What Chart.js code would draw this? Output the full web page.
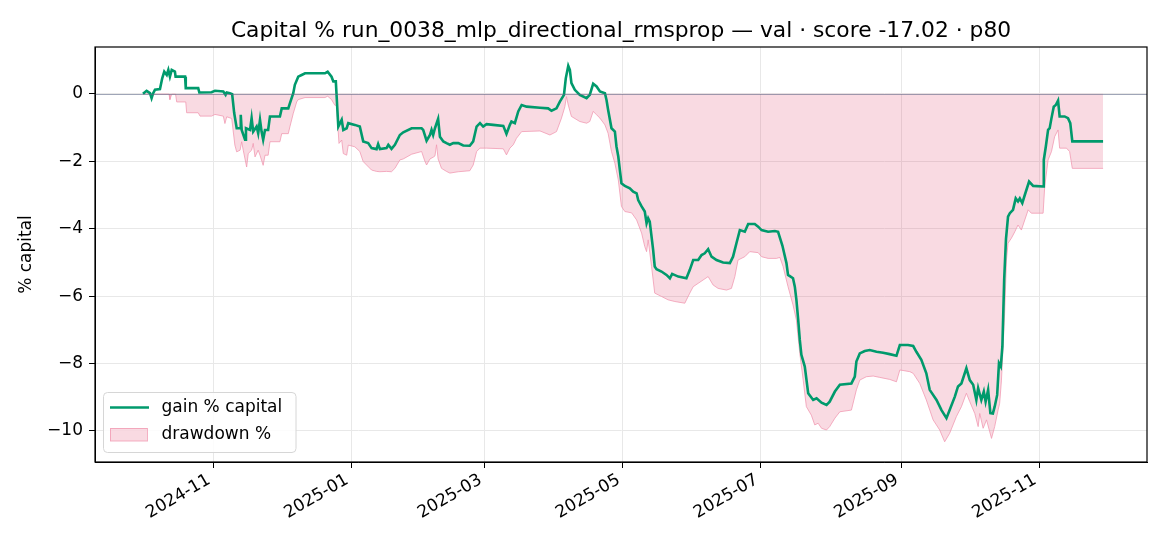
<!DOCTYPE html>
<html>
<head>
<meta charset="utf-8">
<script src="https://cdn.jsdelivr.net/npm/chart.js@4.4.1/dist/chart.umd.min.js"></script>
<style>
  html, body { margin: 0; padding: 0; background: #fff; }
  #wrap { width: 1170px; height: 546px; }
</style>
</head>
<body>
<div id="wrap"><canvas id="capitalChart" width="1170" height="546"></canvas></div>
<script>
// day 0 = first day of the validation run
var startDate = "2024-10-01";

var tickLabels = ["2024-11", "2025-01", "2025-03", "2025-05", "2025-07", "2025-09", "2025-11"];

var gainDays = [0,1.6,3.1,3.8,4.5,5.3,7.5,8.5,9.4,10.5,11.2,11.9,12.7,14.1,14.4,18.6,18.9,24.4,24.9,30.3,
	31.8,35.5,36.5,37,38.4,39.4,40.3,41.4,42.9,43.2,43.6,45.1,45.5,47.3,48,48.7,50.2,50.9,51.7,52.4,
	53.1,53.9,55.3,56.1,60.5,61.3,64.2,64.9,66.4,67.1,68.6,70.1,71.6,80.4,81.6,83.3,84.1,85.2,86.3,87.8,
	88.5,90,90.7,93.6,95.8,97.3,99.5,101,103.2,103.9,104.7,107.6,108.4,109.8,111.3,113.5,115,118.7,123.1,123.8,
	125.3,126.8,127.5,128.2,129,130.4,131.2,132.7,134.1,135.6,137.1,139.3,141.5,144.4,145.9,147.4,148.9,150.3,151.8,154.7,
	159.2,160.6,162.1,162.8,164.3,165.8,167.3,169.5,175.4,179,180.5,182.7,184.2,186,186.8,187.9,188.6,189.3,190.8,193,
	196,197.4,198.9,200.4,201.9,204.1,204.8,205.5,207,208.5,209.2,210,210.7,211.4,212.9,215.1,216.6,218.1,218.8,220.3,
	221.7,222.5,223.2,223.9,225.4,226.1,226.9,229.1,231.3,232.8,233.8,236.5,240.1,241.6,243.1,245.3,246.8,248.2,249.7,251.2,
	253.4,256.3,259.3,260.7,262.2,263.7,265.9,267.4,270.3,271.8,273.3,276.2,279.2,280.6,282.5,284.3,285,287.2,288,288.7,
	289.5,290.2,290.9,292.4,293.9,296.1,297.6,299.8,302,303.4,305.7,307.9,313,314.5,315.2,316.7,318.9,321.1,324.1,327,
	329.9,332.9,334.4,338,340.3,341.7,343.9,346.1,347.6,350.6,352.8,355,356.4,358.7,360.1,361.6,363.8,365.3,366.8,368.2,
	369,370.4,371.5,372.3,373.4,374.4,375.5,376.3,377.4,378.2,379,379.7,380.5,381.3,382.2,383,384.4,385.6,386.6,387.4,
	388.5,389.6,391.5,393.3,397.7,398,398.9,399.9,400.6,401.4,402.4,403.3,404.3,405,407.2,408.7,409.7,410.6,424.2];

var gainPct = [0,0.09,0.02,-0.13,0.02,0.12,0.14,0.46,0.66,0.56,0.71,0.51,0.71,0.66,0.51,0.51,0.17,0.17,0.04,0.05,
	0.09,0.07,-0.03,0.04,0.02,-0.01,-0.57,-1.02,-1.02,-0.62,-1.07,-1.36,-1.02,-1.07,-0.72,-1.12,-0.97,-1.17,-0.77,-1.12,
	-1.36,-1.07,-1.07,-0.67,-0.67,-0.43,-0.43,-0.28,0.02,0.27,0.51,0.56,0.61,0.61,0.66,0.51,0.37,0.37,-0.97,-0.77,
	-1.07,-1.02,-0.87,-0.92,-0.97,-1.41,-1.46,-1.61,-1.64,-1.49,-1.64,-1.61,-1.51,-1.63,-1.51,-1.22,-1.14,-1.02,-1.02,-1.07,
	-1.39,-1.22,-1.07,-1.22,-1.02,-0.74,-1.27,-1.41,-1.46,-1.51,-1.46,-1.46,-1.53,-1.54,-1.41,-0.97,-0.87,-0.97,-0.9,-0.92,
	-0.95,-1.19,-0.92,-0.82,-0.87,-0.52,-0.33,-0.38,-0.41,-0.43,-0.5,-0.43,-0.23,-0.03,0.46,0.83,0.71,0.32,0.12,-0.03,
	-0.13,-0.03,0.3,0.22,0.07,0.02,-0.18,-0.47,-1.02,-1.12,-1.56,-1.86,-2.26,-2.65,-2.73,-2.8,-2.9,-2.95,-3.15,-3.34,
	-3.49,-3.84,-3.69,-3.79,-4.63,-5.12,-5.2,-5.27,-5.37,-5.47,-5.34,-5.42,-5.47,-5.22,-4.93,-4.93,-4.78,-4.73,-4.61,-4.83,
	-4.93,-5,-5.02,-4.83,-4.43,-4.04,-4.09,-3.86,-3.86,-3.94,-4.04,-4.09,-4.07,-4.09,-4.5,-5.02,-5.37,-5.47,-5.72,-6.11,
	-6.71,-7.3,-7.74,-8.09,-8.88,-9.08,-9.03,-9.16,-9.23,-9.13,-8.83,-8.63,-8.59,-8.39,-7.94,-7.7,-7.63,-7.6,-7.65,-7.68,
	-7.72,-7.77,-7.45,-7.45,-7.48,-7.65,-7.89,-8.29,-8.78,-9.08,-9.38,-9.62,-9.38,-8.98,-8.68,-8.59,-8.14,-8.49,-8.63,-9.08,
	-8.73,-9.08,-8.83,-9.13,-8.78,-9.47,-9.48,-9.28,-8.93,-7.99,-8.09,-7.5,-5.5,-4.3,-3.64,-3.54,-3.44,-3.1,-3.19,-3.1,
	-3.24,-3,-2.6,-2.73,-2.75,-1.96,-1.56,-1.07,-1.02,-0.72,-0.38,-0.33,-0.2,-0.67,-0.67,-0.72,-0.87,-1.41,-1.41];

var ddDays = [0,3.4,3.8,4.5,11.5,11.9,12.7,14.4,14.9,18.9,19.3,24.4,25.2,30.3,31.8,35.5,36.2,37,39.2,40.6,
	41.4,42.9,43.6,44.3,45.8,46.5,48,48.7,49.5,50.9,51.7,53.1,53.9,55.3,56.1,60.5,61.3,64.2,64.9,66.4,
	67.9,68.6,71.6,80.4,81.6,83.3,84.8,85.5,86.6,87.8,88.5,90,90.7,93.6,95.8,97.3,101,103.2,104.7,107.6,
	109.8,111.3,113.5,115,118.7,123.1,124.5,125.3,126.8,128.2,129,129.7,130.4,131.9,134.1,135.6,139.3,144.4,145.9,147.4,
	148.9,151.8,159.2,160.6,162.1,163.6,165,167.3,175.4,179.8,182.7,184.9,186.4,187.1,187.9,189.3,193,196,197.4,198.9,
	200.4,201.9,204.1,205.5,207,208.5,210,211.4,212.9,215.9,218.1,220.3,221.7,222.5,223.2,224.7,226.1,229.1,232,235,
	239.4,241.6,243.1,245.3,247.5,249.7,251.9,254.1,257.8,260,261.5,262.9,265.9,268.1,271.8,273.3,276.2,279.9,281.4,282.8,
	285,287.2,288.7,290.2,291.7,293.1,295.3,296.8,298.3,299.8,302,303.4,305.7,307.9,313,315.2,316.7,319.6,322.6,325.5,
	329.9,332.9,334.4,338.8,340.3,343.2,346.1,349.1,352,354.2,356.4,359.4,361.6,363.8,365.3,367.5,369,369.7,371.2,372.7,
	374.9,376.3,377.8,378.5,379.3,380.7,381.5,382.2,383.7,385.2,386.6,388.1,389.6,391.1,392.5,397.7,398.4,399.9,401.4,402.8,
	404.3,405,408,409.4,410.6,424.2];

var ddPct = [0,0,-0.17,-0.01,-0.01,-0.17,-0.01,-0.01,-0.24,-0.24,-0.56,-0.56,-0.66,-0.66,-0.61,-0.66,-0.88,-0.68,-0.73,-1.52,
	-1.72,-1.67,-1.42,-1.67,-2.17,-1.77,-1.67,-1.47,-1.87,-1.67,-1.82,-2.12,-1.82,-1.82,-1.42,-1.42,-1.18,-1.18,-0.98,-0.58,
	-0.24,-0.17,-0.11,-0.11,-0.07,-0.17,-0.34,-0.34,-1.47,-1.37,-1.77,-1.82,-1.52,-1.57,-1.71,-2.01,-2.26,-2.3,-2.31,-2.3,
	-2.31,-2.21,-1.96,-1.93,-1.79,-1.71,-1.99,-2.11,-1.93,-1.88,-1.84,-1.51,-1.93,-2.21,-2.3,-2.35,-2.31,-2.28,-2.11,-1.71,
	-1.61,-1.61,-1.63,-1.81,-1.61,-1.51,-1.32,-1.12,-1.1,-1.22,-1.12,-0.72,-0.38,-0.08,-0.33,-0.67,-0.82,-0.87,-0.82,-0.52,
	-0.62,-0.72,-0.92,-1.17,-1.71,-2.06,-2.55,-3.34,-3.49,-3.53,-3.74,-4.13,-4.53,-4.68,-4.33,-5.12,-5.91,-6.01,-6.11,-6.16,
	-6.21,-5.91,-5.72,-5.62,-5.52,-5.42,-5.67,-5.77,-5.82,-5.77,-5.42,-4.93,-4.83,-4.68,-4.71,-4.83,-4.88,-4.88,-4.85,-5.12,
	-5.72,-6.26,-6.71,-7.7,-8.49,-9.28,-9.53,-9.82,-9.77,-9.92,-9.97,-9.87,-9.62,-9.43,-9.38,-8.78,-8.49,-8.39,-8.37,-8.41,
	-8.47,-8.54,-8.19,-8.24,-8.29,-8.59,-9.08,-9.67,-9.97,-10.32,-10.07,-9.57,-9.28,-8.88,-9.13,-9.48,-9.87,-9.48,-9.92,-9.67,
	-10.22,-9.87,-9.38,-9.18,-8.49,-6.51,-4.93,-4.43,-4.28,-4.09,-3.89,-4.04,-3.74,-3.44,-3.54,-3.54,-2.75,-1.96,-1.71,-1.27,
	-1.07,-1.61,-1.61,-1.71,-2.21,-2.21];

var titleText = "Capital % run_0038_mlp_directional_rmsprop \u2014 val \u00b7 score -17.02 \u00b7 p80";

var greenColor = "#009a6c";
var pinkFill = "rgba(225, 70, 110, 0.2)";
var pinkLine = "rgba(240, 150, 175, 0.75)";
var fontName = "'DejaVu Sans', sans-serif";

function dayOf(s) {
	return (Date.parse(s + "T00:00:00Z") - Date.parse(startDate + "T00:00:00Z")) / 86400000;
}
var tickDays = tickLabels.map(function(l) { return dayOf(l + "-01"); });

function points(xs, ys) {
	return xs.map(function(x, i) { return { x: x, y: ys[i] }; });
}

var extras = {
	id: "extras",
	afterDatasetsDraw: function(chart) {
		var c = chart.ctx, a = chart.chartArea, y = chart.scales.y;
		c.save();
		// zero line
		var y0 = Math.round(y.getPixelForValue(0)) + 0.5;
		c.strokeStyle = "rgba(95, 105, 135, 0.6)";
		c.lineWidth = 1;
		c.beginPath(); c.moveTo(a.left, y0); c.lineTo(a.right, y0); c.stroke();
		c.restore();
	},
	afterDraw: function(chart) {
		var c = chart.ctx, a = chart.chartArea;
		c.save();
		// frame
		c.strokeStyle = "#000";
		c.lineWidth = 1.2;
		c.strokeRect(a.left, a.top, a.right - a.left, a.bottom - a.top);

		// title
		c.fillStyle = "#000";
		c.font = "21.8px " + fontName;
		c.textAlign = "center";
		c.textBaseline = "alphabetic";
		c.fillText(titleText, (a.left + a.right) / 2, 36.5);

		// y label
		c.save();
		c.translate(27, (a.top + a.bottom) / 2);
		c.rotate(-Math.PI / 2);
		c.font = "17px " + fontName;
		c.textBaseline = "middle";
		c.fillText("% capital", 0, 0);
		c.restore();

		// legend
		var lx = 103.5, ly = 392.5, lw = 192.5, lh = 60, r = 4;
		c.beginPath();
		c.moveTo(lx + r, ly);
		c.arcTo(lx + lw, ly, lx + lw, ly + lh, r);
		c.arcTo(lx + lw, ly + lh, lx, ly + lh, r);
		c.arcTo(lx, ly + lh, lx, ly, r);
		c.arcTo(lx, ly, lx + lw, ly, r);
		c.closePath();
		c.fillStyle = "rgba(255,255,255,0.85)";
		c.fill();
		c.strokeStyle = "#d6d6d6";
		c.lineWidth = 1;
		c.stroke();

		c.strokeStyle = greenColor;
		c.lineWidth = 2.5;
		c.beginPath(); c.moveTo(110, 407.5); c.lineTo(149, 407.5); c.stroke();

		c.fillStyle = pinkFill;
		c.fillRect(110, 428, 37, 13);
		c.strokeStyle = pinkLine;
		c.lineWidth = 1;
		c.strokeRect(110.5, 428.5, 37, 12.5);

		c.fillStyle = "#000";
		c.font = "17px " + fontName;
		c.textAlign = "left";
		c.textBaseline = "middle";
		c.fillText("gain % capital", 161.5, 407.5);
		c.fillText("drawdown %", 161.5, 434.5);
		c.restore();
	}
};

var ctx = document.getElementById("capitalChart");

var chart = new Chart(ctx, {
	type: "line",
	data: {
		datasets: [
			{
				label: "gain % capital",
				data: points(gainDays, gainPct),
				borderColor: greenColor,
				borderWidth: 2.6,
				pointRadius: 0,
				tension: 0,
				fill: false
			},
			{
				label: "drawdown %",
				data: points(ddDays, ddPct),
				borderColor: pinkLine,
				backgroundColor: pinkFill,
				borderWidth: 1,
				pointRadius: 0,
				tension: 0,
				fill: "origin"
			}
		]
	},
	options: {
		responsive: false,
		animation: false,
		events: [],
		layout: { padding: { top: 47, right: 23, left: 0, bottom: 0 } },
		plugins: {
			legend: { display: false },
			title: { display: false },
			tooltip: { enabled: false }
		},
		scales: {
			x: {
				type: "linear",
				min: -21.2,
				max: 443.6,
				afterFit: function(s) { s.height = 84; },
				afterBuildTicks: function(s) {
					s.ticks = tickDays.map(function(v) { return { value: v }; });
				},
				ticks: {
					autoSkip: false,
					minRotation: 30,
					maxRotation: 30,
					padding: 2,
					labelOffset: -4,
					color: "#000",
					font: { family: fontName, size: 17 },
					callback: function(v) {
						var i = tickDays.indexOf(v);
						return i >= 0 ? tickLabels[i] : "";
					}
				},
				grid: { color: "#e8e8e8", lineWidth: 1, tickColor: "#000", tickLength: 6 },
				border: { display: true, color: "#000" }
			},
			y: {
				type: "linear",
				min: -10.92,
				max: 1.39,
				afterFit: function(s) { s.width = 95; },
				afterBuildTicks: function(s) {
					s.ticks = [0, -2, -4, -6, -8, -10].map(function(v) { return { value: v }; });
				},
				ticks: {
					padding: 6,
					color: "#000",
					font: { family: fontName, size: 17 },
					callback: function(v) { return v < 0 ? "\u2212" + Math.abs(v) : String(v); }
				},
				grid: { color: "#e8e8e8", lineWidth: 1, tickColor: "#000", tickLength: 6 },
				border: { display: true, color: "#000" }
			}
		}
	},
	plugins: [extras]
});
</script>
</body>
</html>
